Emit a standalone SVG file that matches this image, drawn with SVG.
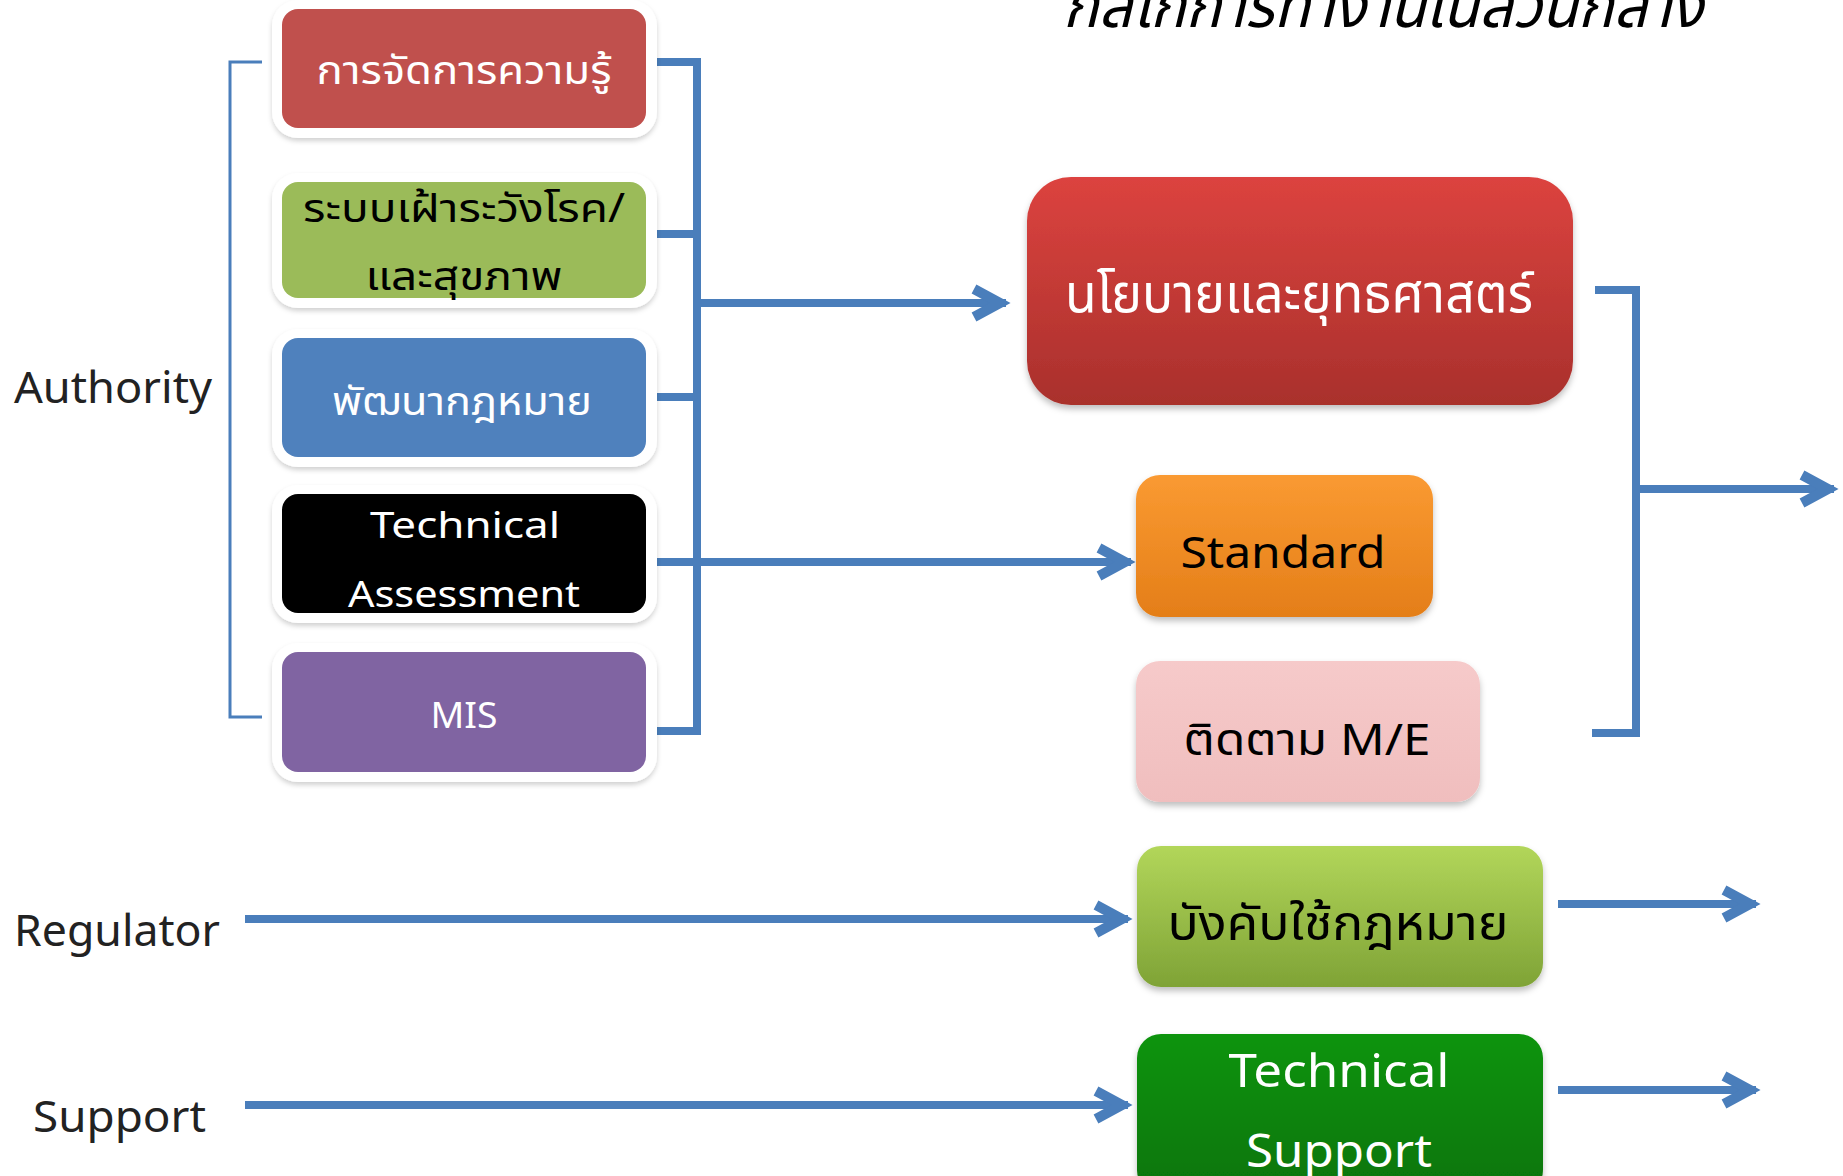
<svg xmlns="http://www.w3.org/2000/svg" width="1843" height="1176" viewBox="0 0 1843 1176">
<style>
.th{font-family:"Noto Sans Thai","Leelawadee UI","Noto Sans",sans-serif}
.lat{font-family:"Noto Sans","Open Sans",sans-serif}
.lbl{font-family:"Noto Sans","Open Sans",sans-serif;font-size:44px;fill:#222}
.conn{stroke:#4A7EBB;fill:none;stroke-width:8}
.thin{stroke:#4A7EBB;fill:none;stroke-width:3}
.wt{fill:#fff}
.bk{fill:#000}
</style>
<defs>
<filter id="sh" x="-10%" y="-10%" width="120%" height="130%">
<feDropShadow dx="0" dy="4" stdDeviation="3" flood-color="#000" flood-opacity="0.25"/>
</filter>
<filter id="sh2" x="-10%" y="-10%" width="120%" height="130%">
<feDropShadow dx="0" dy="3" stdDeviation="2.5" flood-color="#000" flood-opacity="0.18"/>
</filter>
<linearGradient id="gRed" x1="0" y1="0" x2="0" y2="1"><stop offset="0" stop-color="#DC433F"/><stop offset="1" stop-color="#A9302C"/></linearGradient>
<linearGradient id="gOr" x1="0" y1="0" x2="0" y2="1"><stop offset="0" stop-color="#FA9A32"/><stop offset="1" stop-color="#E47E18"/></linearGradient>
<linearGradient id="gPk" x1="0" y1="0" x2="0" y2="1"><stop offset="0" stop-color="#F6CACA"/><stop offset="1" stop-color="#F0BEBE"/></linearGradient>
<linearGradient id="gLg" x1="0" y1="0" x2="0" y2="1"><stop offset="0" stop-color="#B2D65A"/><stop offset="1" stop-color="#7FA336"/></linearGradient>
<linearGradient id="gDg" x1="0" y1="0" x2="0" y2="1"><stop offset="0" stop-color="#0D9410"/><stop offset="1" stop-color="#067406"/></linearGradient>
<marker id="arr" markerUnits="userSpaceOnUse" viewBox="-44 -26 56 52" markerWidth="56" markerHeight="52" refX="2" refY="0" orient="auto">
<path d="M-30,-14 L-4,0 L-30,14" fill="none" stroke="#4A7EBB" stroke-width="10" stroke-linejoin="miter"/>
</marker>
</defs>
<rect width="1843" height="1176" fill="#fff"/>

<g id="title">
<text class="th" x="1383" y="27" font-size="62" font-style="italic" text-anchor="middle" textLength="640" lengthAdjust="spacingAndGlyphs" fill="#000">กลไกการทำงานในส่วนกลาง</text>
</g>

<g id="label-authority"><text class="lbl" x="14" y="403" textLength="198" lengthAdjust="spacingAndGlyphs">Authority</text></g>
<g id="label-regulator"><text class="lbl" x="14" y="946" textLength="206" lengthAdjust="spacingAndGlyphs">Regulator</text></g>
<g id="label-support"><text class="lbl" x="33" y="1132" textLength="173" lengthAdjust="spacingAndGlyphs">Support</text></g>

<g id="connectors">
<path class="thin" d="M262,62 H230 V717 H262"/>
<path class="conn" d="M652,62 H697 V731 H652"/>
<path class="conn" d="M652,234 H697"/>
<path class="conn" d="M652,397 H697"/>
<line class="conn" x1="697" y1="303" x2="1006" y2="303" marker-end="url(#arr)"/>
<line class="conn" x1="652" y1="562" x2="1131" y2="562" marker-end="url(#arr)"/>
<path class="conn" d="M1595,290 H1636 V733 H1592" stroke-width="10"/>
<line class="conn" x1="1636" y1="489" x2="1834" y2="489" stroke-width="9" marker-end="url(#arr)"/>
<line class="conn" x1="245" y1="919" x2="1128" y2="919" marker-end="url(#arr)"/>
<line class="conn" x1="245" y1="1105" x2="1128" y2="1105" marker-end="url(#arr)"/>
<line class="conn" x1="1558" y1="904" x2="1756" y2="904" marker-end="url(#arr)"/>
<line class="conn" x1="1558" y1="1090" x2="1756" y2="1090" marker-end="url(#arr)"/>
</g>

<g id="n-knowledge">
<rect x="272" y="0" width="385" height="138" rx="26" fill="#fff" filter="url(#sh2)"/>
<rect x="282" y="9" width="364" height="119" rx="16" fill="#C0504D"/>
<text class="th wt" x="464" y="84" font-size="40" text-anchor="middle" textLength="295" lengthAdjust="spacingAndGlyphs">การจัดการความรู้</text>
</g>

<g id="n-surveillance">
<rect x="272" y="173" width="385" height="135" rx="26" fill="#fff" filter="url(#sh2)"/>
<rect x="282" y="182" width="364" height="116" rx="16" fill="#9BBB59"/>
<text class="th bk" x="464" y="222" font-size="40" text-anchor="middle" textLength="322" lengthAdjust="spacingAndGlyphs">ระบบเฝ้าระวังโรค/</text>
<text class="th bk" x="464" y="290" font-size="40" text-anchor="middle" textLength="197" lengthAdjust="spacingAndGlyphs">และสุขภาพ</text>
</g>

<g id="n-lawdev">
<rect x="272" y="329" width="385" height="138" rx="26" fill="#fff" filter="url(#sh2)"/>
<rect x="282" y="338" width="364" height="119" rx="16" fill="#4F81BD"/>
<text class="th wt" x="462" y="415" font-size="40" text-anchor="middle" textLength="260" lengthAdjust="spacingAndGlyphs">พัฒนากฎหมาย</text>
</g>

<g id="n-techassess">
<rect x="272" y="485" width="385" height="138" rx="26" fill="#fff" filter="url(#sh2)"/>
<rect x="282" y="494" width="364" height="119" rx="16" fill="#000"/>
<text class="lat wt" x="465" y="538" font-size="37" text-anchor="middle" textLength="190" lengthAdjust="spacingAndGlyphs">Technical</text>
<text class="lat wt" x="464" y="607" font-size="37" text-anchor="middle" textLength="232" lengthAdjust="spacingAndGlyphs">Assessment</text>
</g>

<g id="n-mis">
<rect x="272" y="643" width="385" height="139" rx="26" fill="#fff" filter="url(#sh2)"/>
<rect x="282" y="652" width="364" height="120" rx="16" fill="#8064A2"/>
<text class="lat wt" x="464" y="728" font-size="37" text-anchor="middle" textLength="67" lengthAdjust="spacingAndGlyphs">MIS</text>
</g>

<g id="n-policy">
<rect x="1027" y="177" width="546" height="228" rx="44" fill="url(#gRed)" filter="url(#sh)"/>
<text class="th wt" x="1299" y="312" font-size="54" text-anchor="middle" textLength="468" lengthAdjust="spacingAndGlyphs">นโยบายและยุทธศาสตร์</text>
</g>

<g id="n-standard">
<rect x="1136" y="475" width="297" height="142" rx="24" fill="url(#gOr)" filter="url(#sh)"/>
<text class="lat bk" x="1283" y="568" font-size="44" text-anchor="middle" textLength="205" lengthAdjust="spacingAndGlyphs">Standard</text>
</g>

<g id="n-monitor">
<rect x="1136" y="661" width="344" height="141" rx="24" fill="url(#gPk)" filter="url(#sh)"/>
<text class="th bk" x="1307" y="755" font-size="44" text-anchor="middle" textLength="247" lengthAdjust="spacingAndGlyphs">ติดตาม M/E</text>
</g>

<g id="n-enforce">
<rect x="1137" y="846" width="406" height="141" rx="24" fill="url(#gLg)" filter="url(#sh)"/>
<text class="th bk" x="1338" y="940" font-size="48" text-anchor="middle" textLength="341" lengthAdjust="spacingAndGlyphs">บังคับใช้กฎหมาย</text>
</g>

<g id="n-techsupport">
<rect x="1137" y="1034" width="406" height="160" rx="24" fill="url(#gDg)" filter="url(#sh)"/>
<text class="lat wt" x="1339" y="1087" font-size="46" text-anchor="middle" textLength="221" lengthAdjust="spacingAndGlyphs">Technical</text>
<text class="lat wt" x="1339" y="1167" font-size="46" text-anchor="middle" textLength="186" lengthAdjust="spacingAndGlyphs">Support</text>
</g>
</svg>
